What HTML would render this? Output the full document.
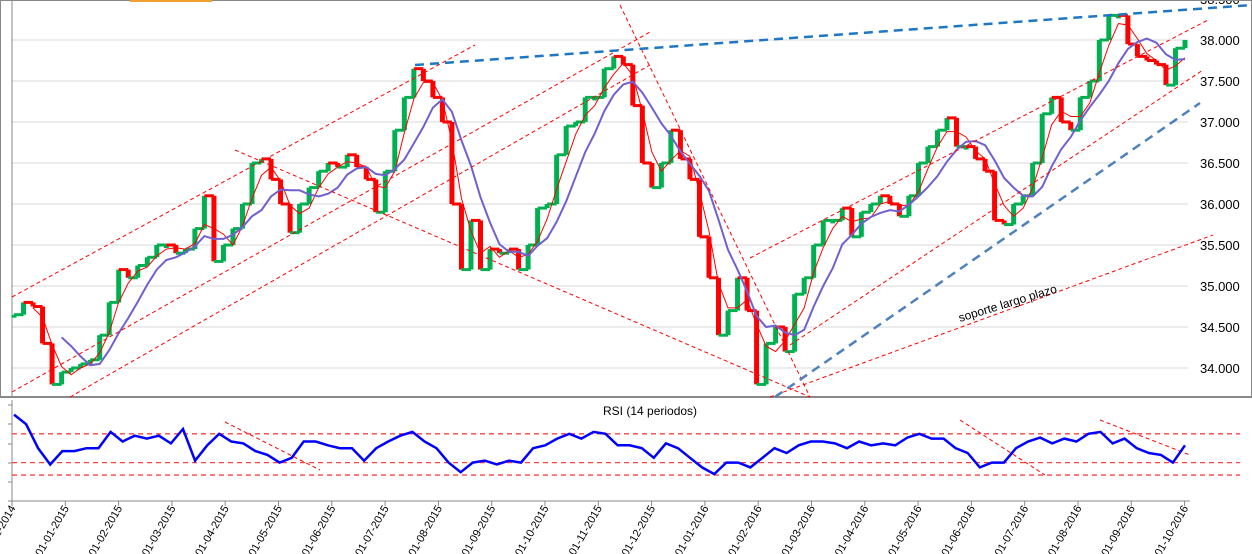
<!DOCTYPE html>
<html><head><meta charset="utf-8"><style>
html,body{margin:0;padding:0;background:#fff;}
svg{display:block;font-family:"Liberation Sans",sans-serif;}
</style></head><body>
<svg id="c" width="1252" height="554"></svg>
<script>
const priceTicks=["34.000","34.500","35.000","35.500","36.000","36.500","37.000","37.500","38.000","38.500"];
const priceTickValues=[34,34.5,35,35.5,36,36.5,37,37.5,38,38.5];
const dateLabels=["01-12-2014","01-01-2015","01-02-2015","01-03-2015","01-04-2015","01-05-2015","01-06-2015","01-07-2015","01-08-2015","01-09-2015","01-10-2015","01-11-2015","01-12-2015","01-01-2016","01-02-2016","01-03-2016","01-04-2016","01-05-2016","01-06-2016","01-07-2016","01-08-2016","01-09-2016","01-10-2016"];
const closes=[34.65,34.8,34.75,34.3,33.8,33.95,34.0,34.05,34.1,34.4,34.8,35.2,35.1,35.25,35.35,35.5,35.5,35.4,35.45,35.7,36.1,35.3,35.5,35.7,36.0,36.5,36.55,36.3,36.0,35.65,36.0,36.2,36.4,36.5,36.45,36.6,36.45,36.3,35.9,36.4,36.9,37.3,37.65,37.5,37.3,37.0,36.0,35.2,35.8,35.2,35.45,35.4,35.45,35.2,35.5,35.95,36.0,36.6,36.95,37.0,37.3,37.3,37.65,37.8,37.7,37.2,36.5,36.2,36.5,36.9,36.55,36.3,35.6,35.1,34.4,34.7,35.1,34.7,33.8,34.3,34.5,34.2,34.9,35.1,35.5,35.8,35.8,35.95,35.6,35.9,36.0,36.1,36.0,35.85,36.1,36.5,36.7,36.9,37.05,36.7,36.7,36.55,36.4,35.8,35.75,36.0,36.1,36.5,37.1,37.3,37.0,36.9,37.3,37.5,38.0,38.3,38.3,37.95,37.8,37.75,37.7,37.45,37.9,38.0];
const rsiValues=[90,80,55,38,52,52,55,55,72,62,68,65,68,60,75,42,58,70,62,60,52,48,40,45,62,62,58,55,55,42,55,62,68,72,62,55,40,30,40,42,38,42,40,55,58,65,70,65,72,70,58,58,55,45,60,55,45,35,28,40,40,35,45,55,50,58,62,62,60,55,62,58,60,58,66,70,65,65,55,50,35,40,40,55,62,66,60,65,62,70,72,60,65,55,50,48,40,58];
const rsiLevels=[70,40,27];

const NS="http://www.w3.org/2000/svg";
const svg=document.getElementById('c');
function mk(t,a,p){const e=document.createElementNS(NS,t);for(const k in a)e.setAttribute(k,a[k]);(p||svg).appendChild(e);return e;}
const X0=14,X1=1185;
const yP=v=>40+(38-v)*82;
const xI=i=>X0+i*(X1-X0)/(closes.length-1);
const xR=i=>X0+i*(X1-X0)/(rsiValues.length-1);
const yR=v=>501-v*0.96;
const xD=i=>12+i*53.3;

// grid
priceTickValues.forEach((v,i)=>{
  const y=yP(v);
  if(y>2&&y<396){
  const g=mk('line',{x1:12,x2:1188,y1:y,y2:y,stroke:'#d9d9d9','stroke-width':1});
  }
  const t=mk('text',{x:1200,y:y+5,'font-size':13,fill:'#000'});t.textContent=priceTicks[i];
  
});
mk('rect',{x:0.5,y:0.5,width:1251,height:396,fill:'none',stroke:'#888'});
mk('line',{x1:12,x2:12,y1:0,y2:397,stroke:'#888'});
mk('line',{x1:0,x2:1252,y1:397,y2:397,stroke:'#888','stroke-width':2});

// candles
const cg=mk('g',{});
closes.forEach((c,i)=>{
  const o=i?closes[i-1]:c;
  const x=xI(i);const y1=yP(Math.max(o,c)),y2=yP(Math.min(o,c));
  const r=mk('rect',{x:x-2.5,y:y1,width:5,height:Math.max(3,y2-y1),fill:c>=o?'#00b050':'#ff0000'},cg);
  
  if(i){const h=mk('line',{x1:xI(i-1),x2:x,y1:yP(o),y2:yP(o),stroke:c>=o?'#00b050':'#ff0000','stroke-width':3},cg);}
});
function sma(n){return closes.map((_,i)=>{if(i<n-1)return null;let s=0;for(let k=i-n+1;k<=i;k++)s+=closes[k];return s/n;});}
function drawMA(arr,col,w,name){let d='';arr.forEach((v,i)=>{if(v==null)return;d+=(d?'L':'M')+xI(i).toFixed(1)+','+yP(v).toFixed(1);});
  const p=mk('path',{d,fill:'none',stroke:col,'stroke-width':w});}
drawMA(sma(3),'#ff0000',1,'fast-ma-line');
drawMA(sma(6),'#7060d0',2,'slow-ma-line');

// trendlines
const tl=[[12,297,475,45,'#ff0000',1],[12,392,650,32,'#ff0000',1],[70,397,650,65,'#ff0000',1],
[235,150,810,397,'#ff0000',1],[620,5,810,397,'#ff0000',1],[750,258,1208,20,'#ff0000',1],[790,345,1203,70,'#ff0000',1],
[770,397,1213,235,'#ff0000',1],[415,65,1252,5,'#1f77c4',2.5],[775,397,1200,103,'#4f81bd',2.5]];
tl.forEach(a=>{const l=mk('line',{x1:a[0],y1:a[1],x2:a[2],y2:a[3],stroke:a[4],'stroke-width':a[5],'stroke-dasharray':a[5]>2?'9,6':'4,3'});
 });
const st=mk('text',{x:960,y:322,'font-size':12,fill:'#000',transform:'rotate(-17 960 322)'});st.textContent='soporte largo plazo';

mk('rect',{x:130,y:0,width:82,height:2,fill:'#f0a030'});

// RSI panel
mk('line',{x1:12,x2:12,y1:400,y2:501,stroke:'#888'});
[405,424,444,463,482,501].forEach(y=>mk('line',{x1:8,x2:12,y1:y,y2:y,stroke:'#888'}));
mk('line',{x1:12,x2:1190,y1:501,y2:501,stroke:'#888'});
rsiLevels.forEach(v=>{const l=mk('line',{x1:12,x2:1240,y1:yR(v),y2:yR(v),stroke:'#ff4040','stroke-width':1.3,'stroke-dasharray':'5,4'});
 });
[[225,422,320,470],[960,420,1045,475],[1100,420,1190,455]].forEach(a=>mk('line',{x1:a[0],y1:a[1],x2:a[2],y2:a[3],stroke:'#ff0000','stroke-dasharray':'4,3'}));
let rd='';rsiValues.forEach((v,i)=>{rd+=(i?'L':'M')+xR(i).toFixed(1)+','+yR(v).toFixed(1);});
const rp=mk('path',{d:rd,fill:'none',stroke:'#0000ff','stroke-width':2.5});

const rt=mk('text',{x:603,y:415,'font-size':12,fill:'#000'});rt.textContent='RSI (14 periodos)';


dateLabels.forEach((d,i)=>{const x=xD(i);
 mk('line',{x1:x,x2:x,y1:501,y2:506,stroke:'#888'});
 const t=mk('text',{x:x+4,y:508,'font-size':11,fill:'#000','text-anchor':'end',transform:`rotate(-60 ${x+4} 508)`});t.textContent=d;
 });
</script>
</body></html>
